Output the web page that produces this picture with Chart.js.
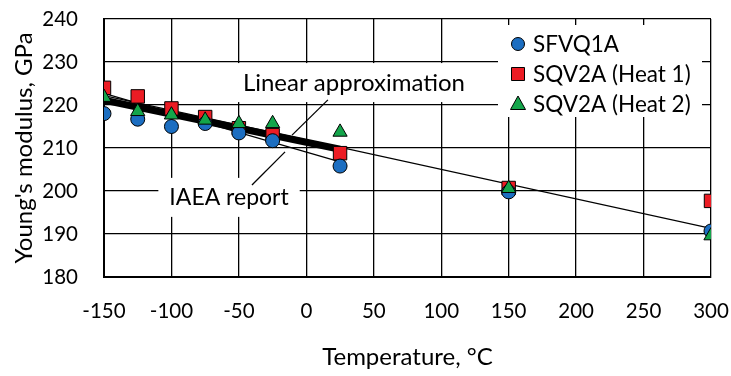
<!DOCTYPE html>
<html><head><meta charset="utf-8">
<script src="https://cdn.jsdelivr.net/npm/chart.js@4/dist/chart.umd.min.js"></script>
<style>html,body{margin:0;padding:0;background:#fff}#wrap{width:731px;height:376px}</style>
</head><body><div id="wrap"><canvas id="c"></canvas></div>
<script>
const temps = [-150, -125, -100, -75, -50, -25, 25, 150, 300];
const sfvq1a = [218, 216.7, 215, 215.7, 213.5, 211.7, 205.8, 199.8, 190.7];
const sqv2aHeat1 = [224, 222, 219.2, 217.2, 214.6, 213, 208.8, 200.7, 197.7];
const sqv2aHeat2 = [221.8, 218.5, 217.7, 216.5, 215.7, 215.7, 213.7, 200.6, 189.6];
const approxT = [-150, 25];
const approxE = [221.1, 209.7];
const reportT = [-150, 25];
const reportE = [222.7, 206.8];
const trendT = [-150, 300];
const trendE = [222.2, 191.3];
const seriesNames = ['SFVQ1A', 'SQV2A (Heat 1)', 'SQV2A (Heat 2)'];
const annotationTexts = ['Linear approximation', 'IAEA report'];
const xTitle = 'Temperature, \u00B0C';
const yTitle = "Young's modulus, GPa";

const FONT = 'Lato';
const pts = (xs, ys) => xs.map((x, i) => ({x, y: ys[i]}));
const BLUE = '#1C6EC1', RED = '#EC1C24', GREEN = '#14A54B';
const RADII = {circle: 7, rect: 9.5, triangle: 8.2};

const markerDs = (label, data, style, color, order) => ({
  label, data: pts(temps, data), showLine: false, pointStyle: style,
  pointRadius: RADII[style], pointBackgroundColor: color,
  pointBorderColor: '#000', pointBorderWidth: 1, order
});
const lineDs = (data, width, order) => ({
  data, showLine: true, borderColor: '#000', borderWidth: width,
  pointRadius: 0, fill: false, order
});

const overlay = {
  id: 'overlay',
  beforeDatasetsDraw(chart) {
    const {ctx, chartArea: a, scales: {x, y}} = chart;
    ctx.save();
    ctx.textBaseline = 'middle';
    const ann = [
      {t: annotationTexts[0], size: 24, x: 35.3, y: 225.1, lead: [[16, 221.2], [-10.6, 213.0]]},
      {t: annotationTexts[1], size: 23, x: -57.3, y: 198.4, lead: [[-40.3, 201.4], [-15.8, 209.1]]}
    ];
    ann.forEach(o => {
      ctx.font = o.size + 'px ' + FONT;
      const cx = x.getPixelForValue(o.x), cy = y.getPixelForValue(o.y);
      const w = ctx.measureText(o.t).width;
      ctx.fillStyle = '#fff';
      ctx.fillRect(cx - w / 2 - 11, cy - 20, w + 22, 39);
      ctx.fillStyle = '#000';
      ctx.textAlign = 'center';
      ctx.fillText(o.t, cx, cy);
      ctx.beginPath();
      ctx.moveTo(x.getPixelForValue(o.lead[0][0]), y.getPixelForValue(o.lead[0][1]));
      ctx.lineTo(x.getPixelForValue(o.lead[1][0]), y.getPixelForValue(o.lead[1][1]));
      ctx.lineWidth = 1.3; ctx.strokeStyle = '#000'; ctx.stroke();
    });
    ctx.font = '22.5px ' + FONT;
    const lx = a.right - 213, ly = a.top + 6, lw = 204, lh = 92;
    ctx.fillStyle = '#fff';
    ctx.fillRect(lx, ly, lw, lh);
    const metas = [1, 2, 0];
    metas.forEach((di, i) => {
      const ds = chart.data.datasets[di];
      const my = ly + 19 + i * 30, mx = lx + 20;
      ctx.fillStyle = ds.pointBackgroundColor; ctx.strokeStyle = '#000'; ctx.lineWidth = 1;
      ctx.beginPath();
      if (ds.pointStyle === 'circle') ctx.arc(mx, my, 6.5, 0, Math.PI * 2);
      else if (ds.pointStyle === 'rect') ctx.rect(mx - 6.5, my - 6.5, 13, 13);
      else { ctx.moveTo(mx, my - 8); ctx.lineTo(mx + 7.5, my + 5.5); ctx.lineTo(mx - 7.5, my + 5.5); ctx.closePath(); }
      ctx.fill(); ctx.stroke();
      ctx.fillStyle = '#000'; ctx.textAlign = 'left';
      ctx.fillText(ds.label, lx + 35, my + 1);
    });
    ctx.restore();
  }
};

new Chart(document.getElementById('c'), {
  type: 'scatter',
  data: {
    datasets: [
      markerDs(seriesNames[2], sqv2aHeat2, 'triangle', GREEN, 0),
      markerDs(seriesNames[0], sfvq1a, 'circle', BLUE, 1),
      markerDs(seriesNames[1], sqv2aHeat1, 'rect', RED, 2),
      lineDs(pts(approxT, approxE), 7, 3),
      lineDs(pts(reportT, reportE), 1.3, 4),
      lineDs(pts(trendT, trendE), 1.3, 5)
    ]
  },
  options: {
    responsive: true, maintainAspectRatio: false, animation: false,
    layout: {padding: {top: 19, right: 20, left: 0, bottom: 0}},
    plugins: {legend: {display: false}, tooltip: {enabled: false}},
    scales: {
      x: {
        type: 'linear', min: -150, max: 300,
        ticks: {stepSize: 50, color: '#000', font: {family: FONT, size: 20.5}, padding: 22, maxRotation: 0},
        grid: {color: '#000', lineWidth: 1.3, drawTicks: false},
        border: {color: '#000', width: 2},
        title: {display: true, text: xTitle, color: '#000', font: {family: FONT, size: 24}, padding: {top: 4, bottom: 4}},
        afterFit(s) { s.height = 99; s.paddingLeft = 0; s.paddingRight = 0; }
      },
      y: {
        min: 180, max: 240,
        ticks: {stepSize: 10, color: '#000', font: {family: FONT, size: 20.5}, padding: 26},
        grid: {color: '#000', lineWidth: 1.3, drawTicks: false},
        border: {color: '#000', width: 2},
        title: {display: true, text: yTitle, color: '#000', font: {family: FONT, size: 24}, padding: {top: 10, bottom: 4}},
        afterFit(s) { s.width = 104; s.paddingTop = 0; s.paddingBottom = 0; }
      }
    }
  },
  plugins: [overlay]
});
</script></body></html>
